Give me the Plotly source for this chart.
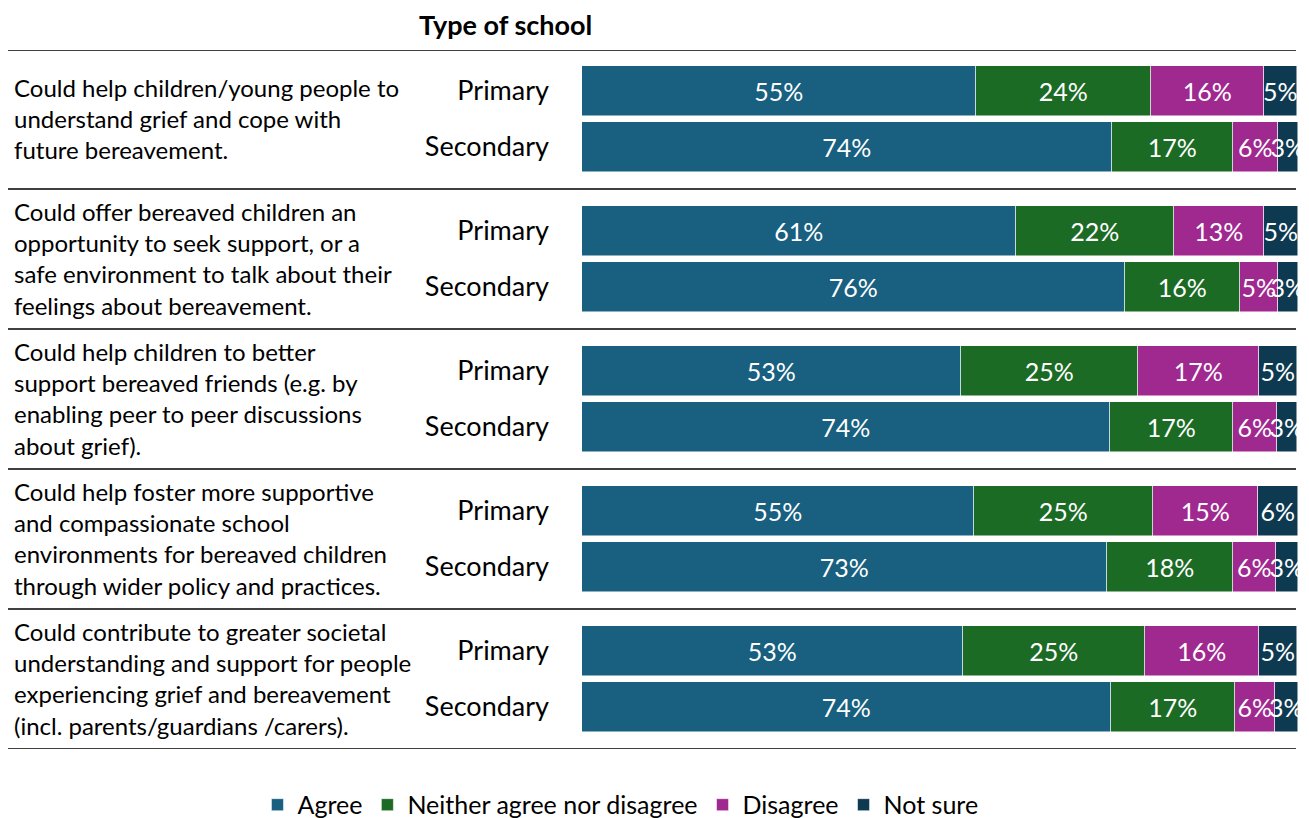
import plotly.graph_objects as go

W, H = 1309, 818

statements = [
    "Could help children/young people to<br>understand grief and cope with<br>future bereavement.",
    "Could offer bereaved children an<br>opportunity to seek support, or a<br>safe environment to talk about their<br>feelings about bereavement.",
    "Could help children to better<br>support bereaved friends (e.g. by<br>enabling peer to peer discussions<br>about grief).",
    "Could help foster more supportive<br>and compassionate school<br>environments for bereaved children<br>through wider policy and practices.",
    "Could contribute to greater societal<br>understanding and support for people<br>experiencing grief and bereavement<br>(incl. parents/guardians /carers).",
]
school_types = ["Primary", "Secondary"]

series_names = ["Agree", "Neither agree nor disagree", "Disagree", "Not sure"]
colors = ["#185f80", "#1c6b25", "#a0298f", "#0e3a51"]

# values per row, order: S1 Primary, S1 Secondary, S2 Primary, ...
agree    = [55.0, 74.0, 60.6, 75.8, 52.9, 73.7, 54.7, 73.3, 53.2, 73.9]
neither  = [24.4, 16.9, 22.1, 16.1, 24.7, 17.2, 25.0, 17.6, 25.4, 17.3]
disagree = [15.8,  6.3, 12.6,  5.3, 16.9,  6.1, 14.7,  6.0, 15.9,  5.6]
not_sure = [ 4.7,  2.8,  4.7,  2.8,  5.4,  2.9,  5.6,  3.1,  5.4,  3.2]

series_values = [agree, neither, disagree, not_sure]

# row positions: group spacing 2.5, within-group spacing 1
ypos = []
ylab = []
for g in range(len(statements)):
    for s, st in enumerate(school_types):
        ypos.append(2.5 * g + s)
        ylab.append(st)

FONT = "Lato"
fig = go.Figure()
for name, vals, col in zip(series_names, series_values, colors):
    fig.add_trace(go.Bar(
        y=ypos, x=vals, orientation="h", name=name,
        marker=dict(color=col, line=dict(color="white", width=0.5)),
        width=0.89,
        text=[f"{round(v)}%" for v in vals],
        textposition="inside", insidetextanchor="middle", textangle=0,
        textfont=dict(color="white", size=25, family=FONT),
        hoverinfo="skip",
    ))

x0 = 582 / W
x1 = 1298 / W
ytop = 50
ybot = 749
fig.update_layout(
    width=W, height=H,
    barmode="stack",
    bargap=0,
    plot_bgcolor="white", paper_bgcolor="white",
    margin=dict(l=0, r=0, t=0, b=0, autoexpand=False),
    font=dict(family=FONT, size=24, color="black"),
    uniformtext=dict(mode="show", minsize=25),
    xaxis=dict(domain=[x0, x1], range=[0, 100], visible=False, fixedrange=True),
    yaxis=dict(domain=[1 - ybot / H, 1 - ytop / H],
               range=[11.75, -0.73],
               tickvals=ypos, ticktext=ylab,
               tickfont=dict(size=27, family=FONT, color="black"),
               showgrid=False, zeroline=False, showline=False,
               ticks="", ticklabelstandoff=32, automargin=False),
    showlegend=True,
    legend=dict(orientation="h", x=0.474, xanchor="center", y=0.016, yanchor="middle",
                font=dict(size=25, family=FONT), traceorder="normal"),
)

# separator lines
sep_y = [-0.73] + [2.5 * g - 0.75 for g in range(1, len(statements))] + [11.75]
for yv in sep_y:
    fig.add_shape(type="line", xref="paper", yref="y", x0=8 / W, x1=1296 / W,
                  y0=yv, y1=yv, line=dict(color="#404040", width=2), layer="above")

# statement labels
for g, txt in enumerate(statements):
    fig.add_annotation(xref="paper", yref="y", x=12 / W, y=2.5 * g + 0.5,
                       text=txt, showarrow=False, xanchor="left", yanchor="middle",
                       align="left", font=dict(size=24, family=FONT, color="black"))

fig.add_annotation(xref="paper", yref="paper", x=505 / W, y=1 - 25 / H,
                   text="<b>Type of school</b>", showarrow=False,
                   xanchor="center", yanchor="middle",
                   font=dict(size=27, family=FONT, color="black"))

fig.write_html("out.html")
